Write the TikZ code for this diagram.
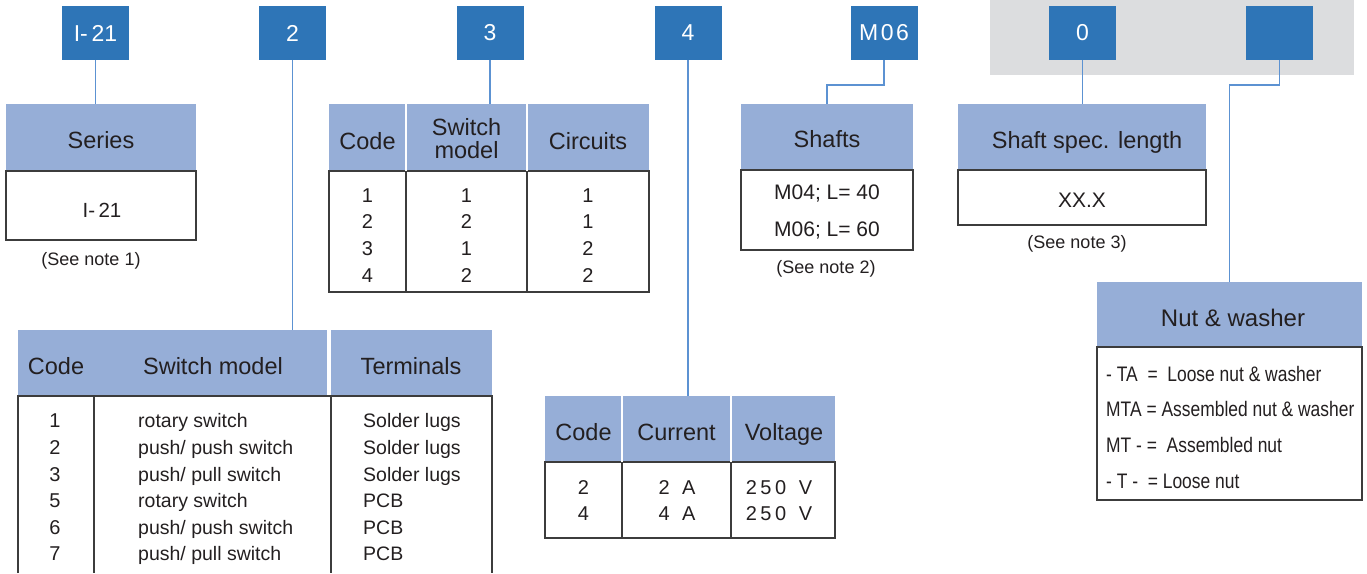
\documentclass[tikz,border=0pt]{standalone}
\usepackage{fontspec}
\setmainfont{Liberation Sans}
\newfontfamily\narrowf[FakeStretch=0.83]{Liberation Sans}
\definecolor{codeblue}{RGB}{46,117,183}
\definecolor{headblue}{RGB}{150,174,215}
\definecolor{bggray}{RGB}{220,221,223}
\definecolor{linkblue}{RGB}{92,146,210}
\definecolor{txt}{RGB}{35,31,32}
\definecolor{border}{RGB}{60,60,60}
\newcommand\lsp{\kern3.5pt}
\tikzset{
  codebox/.style={fill=codeblue, text=white, minimum width=67pt, minimum height=54pt,
    inner sep=0pt, outer sep=0pt, font=\fontsize{23}{27}\selectfont},
  headbox/.style={fill=headblue, draw=none, inner sep=0pt, outer sep=0pt},
  bodybox/.style={fill=white, draw=border, line width=1.3pt, inner sep=0pt, outer sep=0pt},
  sepline/.style={draw=white, line width=1.5pt},
  gridline/.style={draw=border, line width=1.3pt},
  link/.style={draw=linkblue, line width=1.3pt},
  htxt/.style={text=txt, inner sep=0pt, anchor=base, font=\fontsize{23.5}{27}\selectfont},
  btxt/.style={text=txt, inner sep=0pt, anchor=base, font=\fontsize{20}{24}\selectfont},
  ltxt/.style={text=txt, inner sep=0pt, anchor=base west, font=\fontsize{19.5}{24}\selectfont},
  ntxt/.style={text=txt, inner sep=0pt, anchor=base, font=\fontsize{18}{22}\selectfont},
  nuttxt/.style={text=txt, inner sep=0pt, anchor=base west, font=\narrowf\fontsize{21}{25}\selectfont},
}
\begin{document}
\begin{tikzpicture}[x=1pt,y=-1pt]
\useasboundingbox (0,0) rectangle (1367,573);
% grey background for optional codes
\fill[bggray] (990,0) rectangle (1354,75);

% code boxes
\node[codebox] (b1) at (95.5,33) {I-\,21};
\node[codebox] (b2) at (292.5,33) {2};
\node[codebox] (b3) at (490,33) {3};
\node[codebox] (b4) at (688,33) {4};
\node[codebox] (b5) at (884,33) {M\kern2.5pt0\kern2.5pt6};
\node[codebox] (b6) at (1082.5,33) {0};
\node[codebox] (b7) at (1279.5,33) {};

% ---------- Series ----------
\node[headbox, minimum width=190pt, minimum height=67pt] (serH) at (101,137.5) {};
\node[bodybox, minimum width=190pt, minimum height=69pt] (serB) at (101,205.5) {};
\node[htxt] (serT) at (101,148) {Series};
\node[btxt, font=\fontsize{20.5}{24}\selectfont] (serV) at (102,217) {I-\,21};
\node[ntxt] (serN) at (91,265) {(See note 1)};

% ---------- Table 3 (code / switch model / circuits) ----------
\node[headbox, minimum width=320pt, minimum height=67pt] (t3H) at (489,137.5) {};
\node[bodybox, minimum width=320pt, minimum height=121pt] (t3B) at (489,231.5) {};
\draw[sepline] (406,104) -- (406,171) (527,104) -- (527,171);
\draw[gridline] (406,171) -- (406,292) (527,171) -- (527,292);
\node[htxt] (t3h1) at (367.5,149) {Code};
\node[htxt] (t3h2a) at (466.5,135) {Switch};
\node[htxt] (t3h2b) at (466.5,158) {model};
\node[htxt] (t3h3) at (588,149) {Circuits};
\foreach \y/\a/\b/\c [count=\i] in {202/1/1/1, 228.7/2/2/1, 255.3/3/1/2, 282/4/2/2} {
  \node[btxt] (t3c\i) at (367.5,\y) {\a};
  \node[btxt] (t3m\i) at (466.5,\y) {\b};
  \node[btxt] (t3k\i) at (588,\y) {\c};
}

% ---------- Table 2 (code / switch model / terminals) ----------
\node[headbox, minimum width=474pt, minimum height=66pt] (t2H) at (255,363) {};
\draw[sepline, line width=3.5pt] (329,330) -- (329,396);
\draw[gridline] (18,573) -- (18,396) -- (492,396) -- (492,573);
\draw[gridline] (94,396) -- (94,573) (331,396) -- (331,573);
\node[htxt] (t2h1) at (56,374) {Code};
\node[htxt] (t2h2) at (213,374) {Switch model};
\node[htxt] (t2h3) at (411,374) {Terminals};
\foreach \y/\a/\b/\c [count=\i] in {427/1/{rotary switch}/{Solder lugs}, 454/2/{push/ push switch}/{Solder lugs}, 481/3/{push/ pull switch}/{Solder lugs}, 507/5/{rotary switch}/{PCB}, 534/6/{push/ push switch}/{PCB}, 560/7/{push/ pull switch}/{PCB}} {
  \node[btxt] (t2c\i) at (55,\y) {\a};
  \node[ltxt] (t2m\i) at (138,\y) {\b};
  \node[ltxt] (t2t\i) at (363,\y) {\c};
}

% ---------- Table 4 (code / current / voltage) ----------
\node[headbox, minimum width=290pt, minimum height=66pt] (t4H) at (690,429) {};
\node[bodybox, minimum width=290pt, minimum height=76pt] (t4B) at (690,500) {};
\draw[sepline] (622,396) -- (622,462) (731,396) -- (731,462);
\draw[gridline] (622,462) -- (622,538) (731,462) -- (731,538);
\node[htxt] (t4h1) at (583.5,440) {Code};
\node[htxt] (t4h2) at (676.5,440) {Current};
\node[htxt] (t4h3) at (784,440) {Voltage};
\node[btxt] (t4c1) at (583.5,494) {2};
\node[btxt] (t4c2) at (583.5,520) {4};
\node[btxt] (t4i1) at (677,494) {2\lsp\ \lsp A};
\node[btxt] (t4i2) at (677,520) {4\lsp\ \lsp A};
\node[btxt] (t4v1) at (779,494) {2\lsp5\lsp0\lsp\ \lsp V};
\node[btxt] (t4v2) at (779,520) {2\lsp5\lsp0\lsp\ \lsp V};

% ---------- Shafts ----------
\node[headbox, minimum width=172pt, minimum height=66pt] (shH) at (827,137) {};
\node[bodybox, minimum width=172pt, minimum height=80pt] (shB) at (827,210) {};
\node[htxt] (shT) at (827,147) {Shafts};
\node[btxt, font=\fontsize{21}{25}\selectfont] (sh1) at (827,199.5) {M04; L= 40};
\node[btxt, font=\fontsize{21}{25}\selectfont] (sh2) at (827,236.5) {M06; L= 60};
\node[ntxt] (shN) at (826,273) {(See note 2)};

% ---------- Shaft spec. length ----------
\node[headbox, minimum width=248pt, minimum height=66pt] (spH) at (1082,137) {};
\node[bodybox, minimum width=248pt, minimum height=55pt] (spB) at (1082,197.5) {};
\node[htxt] (spT) at (1087,148) {Shaft spec. length};
\node[btxt, font=\fontsize{21}{25}\selectfont] (spV) at (1082,207.5) {XX.X};
\node[ntxt] (spN) at (1077,248) {(See note 3)};

% ---------- Nut & washer ----------
\node[headbox, minimum width=265pt, minimum height=65pt] (nutH) at (1229.5,314.5) {};
\node[bodybox, minimum width=265pt, minimum height=153pt] (nutB) at (1229.5,423.5) {};
\node[htxt, font=\fontsize{24}{28}\selectfont] (nutT) at (1233,326.5) {Nut \& washer};
\node[nuttxt] (nut1) at (1106,381.5) {-\ TA\ \ =\ \ Loose nut \& washer};
\node[nuttxt] (nut2) at (1106,416.5) {MTA = Assembled nut \& washer};
\node[nuttxt] (nut3) at (1106,452.5) {MT -\ =\ \ Assembled nut};
\node[nuttxt] (nut4) at (1106,488.5) {-\ T -\ \ = Loose nut};

% ---------- connectors ----------
\draw[link] (b1.south) -- (b1.south |- serH.north);
\draw[link] (b2.south) -- (b2.south |- t2H.north);
\draw[link] (b3.south) -- (b3.south |- t3H.north);
\draw[link] (b4.south) -- (b4.south |- t4H.north);
\draw[link] (b5.south) -- ++(0,25) -| (shH.north);
\draw[link] (b6.south) -- (b6.south |- spH.north);
\draw[link] (b7.south) -- ++(0,25) -| (nutH.north);
\end{tikzpicture}
\end{document}
